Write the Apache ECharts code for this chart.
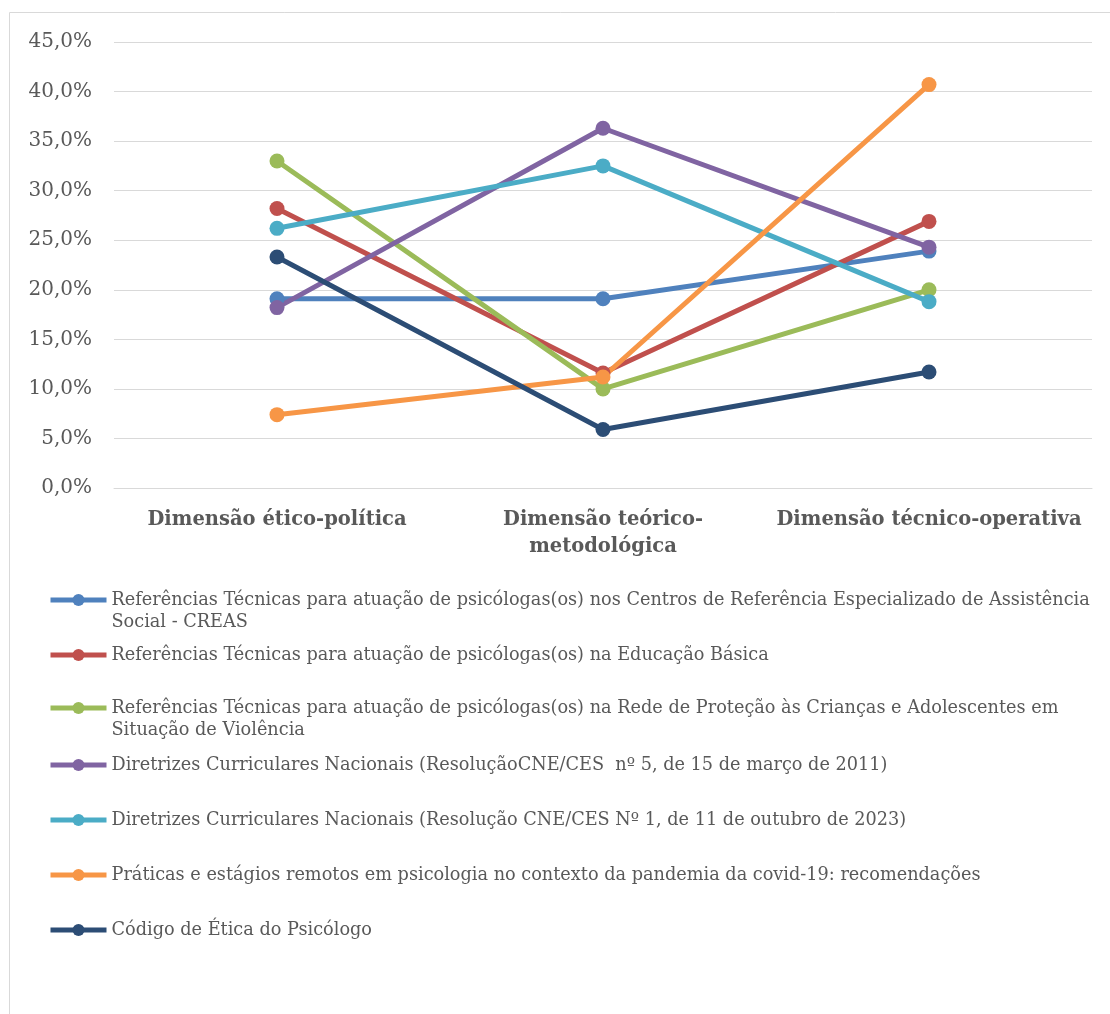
<!DOCTYPE html>
<html><head><meta charset="utf-8">
<script src="https://cdn.jsdelivr.net/npm/echarts@6/dist/echarts.min.js"></script>
<style>html,body{margin:0;padding:0;background:#fff}#c{width:1110px;height:1014px}</style>
</head><body><div id="c"></div>
<script>
const categories = ['Dimensão ético-política', 'Dimensão teórico-metodológica', 'Dimensão técnico-operativa'];
const yTicks = [0, 5, 10, 15, 20, 25, 30, 35, 40, 45];
const seriesNames = [
  'Referências Técnicas para atuação de psicólogas(os) nos Centros de Referência Especializado de Assistência Social - CREAS',
  'Referências Técnicas para atuação de psicólogas(os) na Educação Básica',
  'Referências Técnicas para atuação de psicólogas(os) na Rede de Proteção às Crianças e Adolescentes em Situação de Violência',
  'Diretrizes Curriculares Nacionais (ResoluçãoCNE/CES  nº 5, de 15 de março de 2011)',
  'Diretrizes Curriculares Nacionais (Resolução CNE/CES Nº 1, de 11 de outubro de 2023)',
  'Práticas e estágios remotos em psicologia no contexto da pandemia da covid-19: recomendações',
  'Código de Ética do Psicólogo'
];
const creas = [19.1, 19.1, 23.9];
const educacao = [28.2, 11.6, 26.9];
const redeProtecao = [33.0, 10.0, 20.0];
const dcn2011 = [18.2, 36.3, 24.3];
const dcn2023 = [26.2, 32.5, 18.8];
const praticasRemotas = [7.4, 11.2, 40.7];
const codigoEtica = [23.3, 5.9, 11.7];
const seriesValues = [creas, educacao, redeProtecao, dcn2011, dcn2023, praticasRemotas, codigoEtica];

const colors = ['#4F81BD', '#C0504D', '#9BBB59', '#8064A2', '#4BACC6', '#F79646', '#2C4D75'];
const FONT = 'DejaVu Serif';
const wrapped = {
  0: '\nReferências Técnicas para atuação de psicólogas(os) nos Centros de Referência Especializado de Assistência\nSocial - CREAS',
  2: '\nReferências Técnicas para atuação de psicólogas(os) na Rede de Proteção às Crianças e Adolescentes em\nSituação de Violência'
};
const legendCenters = [600, 655, 708, 765, 820, 875, 930];
const LH = 22;

const chart = echarts.init(document.getElementById('c'), null, {renderer: 'canvas'});
const legends = seriesNames.map((n, i) => {
  const two = wrapped[i] !== undefined;
  return {
    data: [n],
    orient: 'vertical',
    left: 48,
    top: two ? legendCenters[i] - 1.5 * LH : legendCenters[i] - LH / 2,
    padding: 0,
    itemWidth: 56,
    itemHeight: 15,
    itemGap: 0,
    selectedMode: false,
    lineStyle: {width: 5},
    formatter: () => two ? wrapped[i] : n,
    textStyle: {fontFamily: FONT, fontSize: 17.7, color: '#595959', lineHeight: LH}
  };
});

chart.setOption({
  animation: false,
  color: colors,
  graphic: [{
    type: 'rect', silent: true,
    shape: {x: 9.5, y: 12.5, width: 1200, height: 1100},
    style: {fill: 'none', stroke: '#d9d9d9', lineWidth: 1}
  }],
  grid: {left: 114, right: 18, top: 42, bottom: 526},
  legend: legends,
  xAxis: {
    type: 'category', data: categories, boundaryGap: true,
    axisLine: {lineStyle: {color: '#d9d9d9', width: 1}},
    axisTick: {show: false},
    axisLabel: {
      interval: 0, margin: 18, fontFamily: FONT, fontSize: 19.5, fontWeight: 'bold', color: '#595959', lineHeight: 27,
      formatter: v => v.replace('teórico-', 'teórico-\n')
    }
  },
  yAxis: {
    type: 'value', min: yTicks[0], max: yTicks[yTicks.length - 1], interval: 5,
    axisLine: {show: false}, axisTick: {show: false},
    splitLine: {lineStyle: {color: '#d9d9d9', width: 1}},
    axisLabel: {
      margin: 22, fontFamily: FONT, fontSize: 20, color: '#595959',
      formatter: v => v.toFixed(1).replace('.', ',') + '%'
    }
  },
  series: seriesNames.map((n, i) => ({
    name: n, type: 'line', data: seriesValues[i],
    symbol: 'circle', symbolSize: 15,
    lineStyle: {width: 5, color: colors[i]},
    itemStyle: {color: colors[i]}
  }))
});
</script></body></html>
